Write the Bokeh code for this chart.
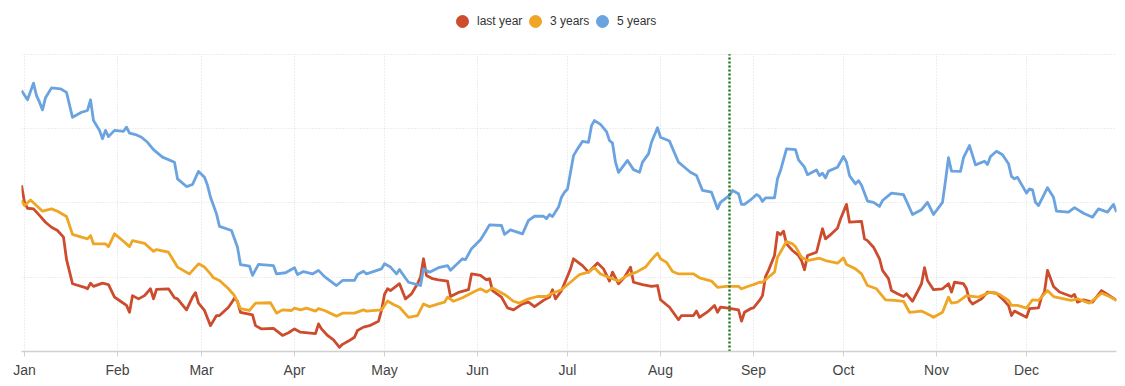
from bokeh.plotting import figure
from bokeh.models import Range1d, FixedTicker, Legend, LegendItem
from bokeh.embed import file_html
from bokeh.resources import INLINE

# ---- data (day of year, value on 0-100 scale) ----
month_starts = [0, 31, 59, 90, 120, 151, 181, 212, 243, 273, 304, 334]
month_labels = ["Jan", "Feb", "Mar", "Apr", "May", "Jun", "Jul", "Aug", "Sep", "Oct", "Nov", "Dec"]
value_grid = [25, 50, 75, 100]
marker_day = 235

five_days = [-1, 1, 3, 4, 5, 6, 7, 9, 12, 14, 16, 19, 21, 22, 23, 25, 26, 27, 28, 30, 33, 34, 35, 37, 39, 41, 43, 46, 50, 51, 54, 56, 58, 60, 61, 62, 63, 64, 65, 69, 71, 72, 75, 76, 78, 83, 84, 87, 90, 91, 93, 96, 98, 100, 104, 106, 110, 111, 113, 114, 119, 120, 122, 124, 125, 126, 128, 132, 133, 135, 138, 141, 142, 146, 147, 149, 152, 154, 155, 159, 160, 162, 166, 168, 170, 173, 174, 175, 176, 178, 179, 180, 181, 183, 184, 186, 188, 189, 190, 192, 194, 195, 196, 197, 198, 201, 203, 205, 206, 208, 209, 211, 212, 215, 218, 220, 222, 224, 226, 229, 231, 232, 235, 236, 238, 239, 240, 242, 244, 245, 246, 247, 250, 251, 252, 254, 257, 258, 260, 261, 264, 265, 266, 267, 268, 271, 273, 274, 275, 277, 278, 279, 281, 283, 285, 286, 289, 293, 294, 296, 299, 301, 303, 306, 307, 308, 309, 312, 313, 315, 317, 320, 321, 322, 324, 326, 328, 329, 330, 331, 334, 335, 336, 337, 338, 341, 343, 344, 348, 350, 353, 356, 358, 361, 363, 364]
five_vals = [87.8, 84.7, 90.3, 86.1, 83.9, 81.3, 85.4, 88.7, 88.4, 87.2, 78.8, 80.5, 81.1, 84.7, 77.7, 74.4, 71.6, 74.4, 72.3, 74.4, 74.1, 75.5, 73.5, 73.0, 72.1, 70.4, 67.9, 65.4, 63.7, 58.1, 55.5, 56.2, 60.6, 58.6, 55.9, 51.9, 49.1, 46.3, 42.1, 40.7, 35.1, 29.2, 28.7, 25.6, 29.3, 28.9, 26.1, 26.5, 28.2, 25.9, 26.9, 26.1, 27.3, 25.2, 22.2, 23.9, 23.9, 25.9, 27.0, 26.1, 27.8, 29.5, 28.4, 26.1, 27.6, 26.1, 23.3, 22.2, 27.8, 26.7, 28.2, 28.9, 27.3, 31.2, 30.9, 34.6, 37.6, 40.9, 42.6, 42.4, 39.4, 40.9, 39.6, 44.1, 45.5, 45.5, 44.7, 46.1, 45.4, 48.6, 51.9, 53.6, 54.7, 65.9, 67.6, 70.7, 70.4, 76.0, 77.7, 76.4, 74.0, 71.0, 70.1, 63.7, 60.3, 64.3, 61.2, 60.3, 63.7, 66.5, 70.4, 75.3, 72.1, 70.8, 63.7, 62.0, 60.3, 59.2, 54.2, 53.6, 48.0, 50.2, 52.5, 54.2, 53.1, 49.5, 49.5, 51.0, 52.8, 52.2, 50.5, 51.7, 51.7, 58.1, 60.9, 68.2, 67.9, 64.5, 62.0, 59.5, 61.1, 59.2, 60.0, 58.4, 60.7, 62.0, 65.6, 63.7, 59.2, 56.4, 57.5, 55.9, 50.6, 50.2, 48.8, 50.8, 53.3, 52.8, 50.6, 46.1, 47.7, 50.2, 46.1, 50.2, 57.5, 65.2, 60.7, 60.6, 65.2, 69.3, 62.8, 64.0, 62.9, 65.6, 67.4, 66.2, 63.2, 58.9, 58.1, 58.6, 53.3, 54.7, 54.4, 50.2, 49.1, 55.1, 51.9, 47.2, 46.9, 48.4, 46.5, 45.2, 48.0, 46.9, 49.5, 46.9]

last_days = [-1, 0, 1, 3, 5, 7, 9, 11, 13, 14, 16, 20, 21, 22, 23, 26, 28, 30, 32, 34, 35, 36, 38, 40, 42, 43, 44, 48, 50, 51, 54, 56, 57, 58, 60, 62, 64, 65, 68, 70, 71, 72, 76, 77, 79, 83, 86, 88, 90, 92, 97, 98, 99, 101, 103, 105, 106, 108, 110, 111, 113, 115, 118, 119, 120, 121, 122, 125, 127, 129, 131, 132, 133, 134, 136, 138, 141, 142, 145, 148, 149, 152, 154, 155, 156, 159, 161, 163, 166, 168, 170, 173, 175, 176, 177, 179, 181, 182, 183, 186, 188, 191, 193, 195, 196, 198, 200, 202, 203, 206, 209, 211, 212, 215, 218, 219, 223, 224, 225, 228, 230, 231, 232, 234, 238, 239, 240, 242, 243, 245, 246, 247, 248, 250, 251, 252, 253, 254, 256, 258, 259, 260, 261, 264, 266, 267, 269, 271, 272, 274, 275, 279, 280, 281, 283, 285, 286, 288, 289, 291, 293, 294, 296, 299, 300, 301, 303, 306, 308, 309, 310, 313, 314, 315, 316, 319, 321, 324, 326, 328, 329, 330, 334, 335, 338, 339, 340, 341, 343, 345, 349, 350, 351, 353, 356, 359, 361, 364]
last_vals = [55.9, 50.2, 48.2, 48.0, 45.8, 43.5, 41.8, 40.7, 38.5, 31.0, 22.8, 21.6, 21.1, 23.0, 21.9, 23.0, 22.5, 18.3, 16.9, 15.5, 13.2, 18.8, 17.7, 18.8, 21.1, 17.7, 20.9, 21.1, 18.1, 17.7, 14.0, 18.3, 19.8, 16.3, 13.8, 8.7, 12.1, 12.1, 14.9, 17.9, 16.9, 13.2, 12.3, 8.7, 7.6, 7.8, 5.4, 6.3, 7.6, 6.5, 6.0, 9.3, 7.6, 5.4, 3.9, 1.4, 2.4, 3.5, 4.8, 7.1, 8.2, 8.7, 10.2, 13.8, 19.2, 21.1, 20.5, 22.8, 17.7, 19.4, 22.8, 25.0, 31.2, 25.6, 24.5, 24.1, 23.7, 18.5, 20.0, 20.8, 26.1, 25.6, 24.1, 24.5, 20.5, 18.3, 14.7, 14.0, 16.0, 16.6, 15.1, 17.2, 18.3, 20.8, 17.7, 20.5, 25.3, 27.8, 31.2, 28.9, 26.7, 29.8, 27.8, 23.7, 26.7, 22.8, 25.0, 28.4, 23.3, 22.5, 21.9, 22.2, 17.4, 14.9, 10.7, 12.1, 12.1, 13.6, 11.5, 13.6, 15.5, 13.2, 14.9, 14.7, 14.0, 10.2, 13.2, 14.4, 14.7, 17.2, 18.8, 25.2, 27.3, 32.3, 40.1, 39.3, 40.5, 36.2, 34.0, 32.3, 30.6, 27.5, 32.3, 33.4, 41.3, 37.9, 39.6, 41.5, 44.6, 49.5, 43.5, 43.8, 37.9, 37.3, 35.1, 31.2, 27.3, 24.5, 20.5, 19.4, 18.5, 19.4, 16.9, 22.8, 28.2, 23.9, 20.8, 21.1, 22.8, 20.0, 23.3, 22.8, 21.1, 17.2, 16.0, 17.7, 20.0, 19.6, 17.7, 15.5, 12.1, 13.6, 11.5, 14.4, 14.7, 18.3, 20.0, 27.3, 21.9, 20.0, 18.5, 19.2, 16.6, 17.4, 16.6, 20.5, 19.2, 17.2]

three_days = [-1, 0, 2, 4, 6, 9, 11, 14, 16, 19, 21, 22, 23, 27, 28, 30, 33, 35, 36, 40, 43, 44, 48, 51, 55, 58, 60, 62, 63, 65, 68, 70, 72, 75, 77, 82, 84, 86, 89, 90, 92, 94, 97, 98, 100, 104, 106, 110, 113, 114, 119, 121, 123, 125, 128, 131, 133, 135, 138, 140, 141, 143, 146, 150, 152, 154, 156, 160, 163, 165, 168, 171, 174, 176, 179, 182, 185, 188, 190, 192, 196, 198, 201, 204, 207, 209, 211, 212, 214, 216, 218, 223, 225, 229, 231, 234, 238, 239, 242, 243, 245, 246, 248, 250, 251, 254, 256, 257, 259, 261, 265, 267, 271, 273, 274, 277, 279, 281, 284, 287, 290, 293, 295, 299, 302, 303, 306, 308, 309, 311, 314, 318, 322, 325, 328, 329, 331, 334, 336, 338, 341, 343, 348, 349, 351, 355, 359, 361, 364]
three_vals = [50.8, 49.1, 51.0, 49.1, 47.2, 48.0, 47.2, 45.4, 39.4, 38.5, 37.9, 39.0, 36.2, 36.2, 35.3, 39.6, 37.1, 35.3, 37.3, 36.4, 33.7, 34.3, 33.4, 28.4, 26.1, 29.5, 28.4, 26.1, 24.8, 23.9, 21.1, 18.8, 14.4, 13.8, 16.3, 16.4, 12.9, 14.0, 13.8, 14.6, 14.0, 14.6, 13.6, 14.4, 13.8, 11.9, 12.9, 12.9, 14.0, 13.6, 14.0, 17.0, 15.8, 14.9, 11.5, 12.1, 16.0, 15.1, 16.0, 16.6, 18.3, 16.9, 18.1, 20.2, 21.1, 20.0, 21.4, 19.2, 16.9, 16.3, 17.7, 18.5, 18.5, 19.6, 20.8, 23.3, 25.9, 26.7, 28.2, 26.1, 24.5, 23.7, 25.6, 26.7, 28.4, 30.9, 33.1, 31.2, 30.0, 26.9, 26.1, 26.1, 24.8, 23.7, 21.6, 21.9, 21.9, 21.1, 22.2, 22.5, 23.3, 23.3, 25.0, 26.7, 31.7, 37.0, 36.2, 35.3, 31.7, 30.6, 31.4, 30.6, 29.7, 31.5, 29.3, 27.8, 26.1, 22.2, 21.1, 17.4, 17.2, 16.9, 13.2, 13.6, 12.1, 11.5, 13.2, 18.3, 16.3, 16.6, 18.8, 18.3, 20.0, 19.2, 17.2, 15.5, 15.5, 14.6, 17.4, 17.2, 20.5, 18.5, 17.4, 17.2, 17.7, 16.3, 19.6, 18.8, 17.2]

series = [
    ("last year", last_days, last_vals, "#cc4c2d"),
    ("3 years", three_days, three_vals, "#efa625"),
    ("5 years", five_days, five_vals, "#6aa3df"),
]

FONT = "Liberation Sans"
W, H = 1125, 386
B_LEFT, B_RIGHT, B_TOP, B_BOTTOM = 21, 9, 10, 35
frame_h = H - B_TOP - B_BOTTOM
y_top = 100 * frame_h / 297.2   # extra headroom above the top grid line holds the legend

p = figure(width=W, height=H, output_backend="svg", toolbar_location=None,
           x_range=Range1d(-1, 364), y_range=Range1d(0, y_top),
           y_axis_location=None, min_border_left=B_LEFT, min_border_right=B_RIGHT,
           min_border_top=B_TOP, min_border_bottom=B_BOTTOM)
p.outline_line_color = None
p.background_fill_color = "white"
p.border_fill_color = "white"

# grid: horizontal from ygrid, vertical as segments stopping at top grid line
p.xgrid.visible = False
p.ygrid.ticker = FixedTicker(ticks=value_grid)
p.ygrid.grid_line_color = "#dcdcdc"
p.ygrid.grid_line_dash = "1 2"
p.ygrid.grid_line_width = 1
p.segment(x0=month_starts, y0=[0] * len(month_starts), x1=month_starts,
          y1=[max(value_grid)] * len(month_starts),
          line_color="#dcdcdc", line_dash="1 2", line_width=1)

# x axis
ax = p.xaxis[0]
ax.ticker = FixedTicker(ticks=month_starts)
ax.major_label_overrides = {d: m for d, m in zip(month_starts, month_labels)}
ax.axis_line_color = "#d0d0d0"
ax.axis_line_width = 1.5
ax.major_tick_line_color = "#d0d0d0"
ax.major_tick_in = 0
ax.major_tick_out = 5
ax.minor_tick_line_color = None
ax.major_label_text_font = FONT
ax.major_label_text_font_size = "14px"
ax.major_label_text_color = "#444444"
ax.major_label_standoff = 5

for name, xs, ys, col in series:
    p.line(xs, ys, line_color=col, line_width=2.8, line_join="round")

# vertical marker line
p.segment(x0=[marker_day], y0=[0], x1=[marker_day], y1=[max(value_grid)],
          line_color="#1f7a1f", line_width=2.5, line_dash="2 2")

# one small legend per series so the big round markers sit where the reference has them
legend_x = [426, 499, 566]
for (name, xs, ys, col), lx in zip(series, legend_x):
    r = p.scatter([0], [-50], marker="circle", size=13, fill_color=col, line_color=col)
    lg = Legend(items=[LegendItem(label=name, renderers=[r])], location=(lx, 315),
                label_text_font=FONT, label_text_font_size="12px",
                label_text_color="#333333", glyph_width=30, glyph_height=30,
                label_standoff=0, padding=0, margin=0,
                border_line_color=None, background_fill_alpha=0)
    p.add_layout(lg, "center")

open("out.html", "w").write(file_html(p, INLINE))
